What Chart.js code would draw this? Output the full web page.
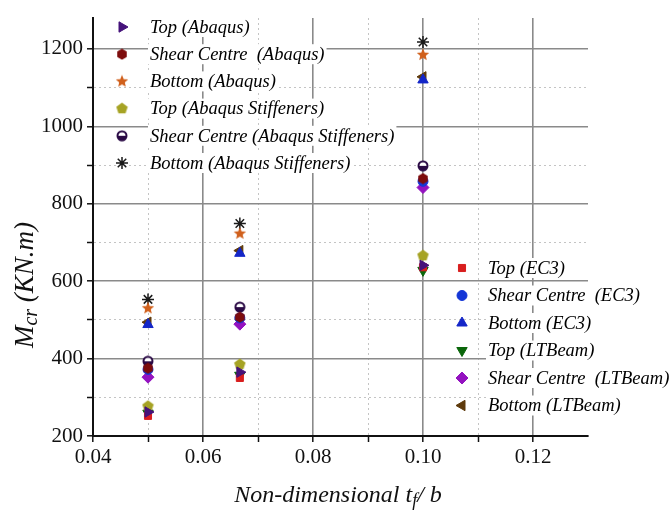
<!DOCTYPE html>
<html>
<head>
<meta charset="utf-8">
<script src="https://cdn.jsdelivr.net/npm/chart.js@4.4.1/dist/chart.umd.min.js"></script>
<style>
  html, body { margin: 0; padding: 0; background: #fff; }
</style>
</head>
<body>
<canvas id="chart" width="670" height="518"></canvas>
<script>
// non-dimensional flange ratio t_f / b
const ratios = [0.05, 0.0667, 0.10];

// Mcr values (kN.m)
const topAbaqus = [262, 365, 641];
const shearAbaqus = [375, 507, 865];
const bottomAbaqus = [530, 723, 1185];
const topStiff = [277, 385, 666];
const shearStiff = [393, 533, 898];
const bottomStiff = [553, 749, 1218];
const topEC3 = [252, 350, 636];
const shearEC3 = [372, 505, 858];
const bottomEC3 = [488, 672, 1120];
const topLTB = [259, 357, 628];
const shearLTB = [352, 489, 842];
const bottomLTB = [494, 679, 1128];

const xTicks = [0.04, 0.05, 0.06, 0.07, 0.08, 0.09, 0.10, 0.11, 0.12];
const yTicks = [200, 300, 400, 500, 600, 700, 800, 900, 1000, 1100, 1200];

const serif = "'Liberation Serif', 'Times New Roman', serif";

// small canvases for the markers Chart.js has no built-in style for
function marker(kind, color, size) {
    const c = document.createElement("canvas");
    c.width = c.height = size;
    const g = c.getContext("2d");
    const cx = size / 2, cy = size / 2, r = size / 2 - 0.5;
    g.fillStyle = color;
    g.strokeStyle = color;
    g.beginPath();
    if (kind === "hex" || kind === "pent") {
        const n = kind === "hex" ? 6 : 5;
        for (let i = 0; i < n; i++) {
            const a = -Math.PI / 2 + i * 2 * Math.PI / n;
            g.lineTo(cx + r * Math.cos(a), cy + r * Math.sin(a));
        }
        g.closePath();
        g.fill();
    } else if (kind === "star") {
        for (let i = 0; i < 10; i++) {
            const a = -Math.PI / 2 + i * Math.PI / 5;
            const rr = i % 2 ? r * 0.45 : r;
            g.lineTo(cx + rr * Math.cos(a), cy + rr * Math.sin(a));
        }
        g.closePath();
        g.fill();
    } else if (kind === "half") {
        g.arc(cx, cy, r - 1, 0, Math.PI * 2);
        g.fillStyle = "#fff";
        g.fill();
        g.beginPath();
        g.arc(cx, cy, r - 1, 0, Math.PI);
        g.fillStyle = color;
        g.fill();
        g.beginPath();
        g.arc(cx, cy, r - 1, 0, Math.PI * 2);
        g.lineWidth = 2;
        g.stroke();
    }
    return c;
}

function series(label, values, color, style, radius, rotation, legend) {
    return {
        label: label,
        data: ratios.map((x, i) => ({ x: x, y: values[i] })),
        backgroundColor: color,
        borderColor: color,
        pointStyle: style,
        pointRadius: radius,
        pointRotation: rotation || 0,
        pointBorderWidth: style === "star" ? 1.5 : 1,
        legendBox: legend
    };
}

const datasets = [
    series("Top (Abaqus)", topAbaqus, "#45127a", "triangle", 6, 90, 0),
    series("Shear Centre  (Abaqus)", shearAbaqus, "#7d0c0c", marker("hex", "#7d0c0c", 12), 6, 0, 0),
    series("Bottom (Abaqus)", bottomAbaqus, "#d0601c", marker("star", "#d0601c", 14), 7, 0, 0),
    series("Top (Abaqus Stiffeners)", topStiff, "#a6a324", marker("pent", "#a6a324", 13), 6, 0, 0),
    series("Shear Centre (Abaqus Stiffeners)", shearStiff, "#2a0a45", marker("half", "#2a0a45", 12), 6, 0, 0),
    series("Bottom (Abaqus Stiffeners)", bottomStiff, "#1a1a1a", "star", 6, 0, 0),
    series("Top (EC3)", topEC3, "#d81e1e", "rect", 5, 0, 1),
    series("Shear Centre  (EC3)", shearEC3, "#1436d6", "circle", 5, 0, 1),
    series("Bottom (EC3)", bottomEC3, "#1426c8", "triangle", 6, 0, 1),
    series("Top (LTBeam)", topLTB, "#0a660a", "triangle", 6, 180, 1),
    series("Shear Centre  (LTBeam)", shearLTB, "#9412c0", "rectRot", 6, 0, 1),
    series("Bottom (LTBeam)", bottomLTB, "#5e3a0c", "triangle", 6, 270, 1)
];

const isMajorX = v => Math.round(v * 100) % 2 === 0;
const isMajorY = v => Math.round(v) % 200 === 0;

// legends and axis titles with subscripts
const decorPlugin = {
    id: "decor",
    afterDraw(chart) {
        const ctx = chart.ctx;
        const boxes = [
            { sx: 122, tx: 150, y: 27, dy: 27.2 },
            { sx: 462, tx: 488, y: 268, dy: 27.5 }
        ];
        const rows = [0, 0];
        ctx.save();
        chart.data.datasets.forEach(ds => {
            const b = boxes[ds.legendBox];
            const y = b.y + rows[ds.legendBox]++ * b.dy;
            ctx.font = "italic 18.5px " + serif;
            const w = ctx.measureText(ds.label).width;
            ctx.fillStyle = "#fff";
            ctx.fillRect(b.tx - 2, y - 10, w + 4, 20);
            ctx.fillStyle = ds.backgroundColor;
            ctx.strokeStyle = ds.borderColor;
            ctx.lineWidth = ds.pointBorderWidth;
            Chart.helpers.drawPoint(ctx, {
                pointStyle: ds.pointStyle,
                radius: ds.pointRadius,
                rotation: ds.pointRotation,
                borderWidth: ds.pointBorderWidth
            }, b.sx, y);
            ctx.fillStyle = "#000";
            ctx.textBaseline = "middle";
            ctx.textAlign = "left";
            ctx.fillText(ds.label, b.tx, y + 1);
        });

        // pieces of a title: [text, size, baseline shift]
        function drawParts(parts, cx, baseline) {
            let total = 0;
            parts.forEach(p => {
                ctx.font = "italic " + p[1] + "px " + serif;
                total += ctx.measureText(p[0]).width;
            });
            let x = cx - total / 2;
            ctx.textBaseline = "alphabetic";
            ctx.textAlign = "left";
            ctx.fillStyle = "#111";
            parts.forEach(p => {
                ctx.font = "italic " + p[1] + "px " + serif;
                ctx.fillText(p[0], x, baseline + p[2]);
                x += ctx.measureText(p[0]).width;
            });
        }
        drawParts([["Non-dimensional ", 24, 0], ["t", 24, 0], ["f", 18, 4], ["/ b", 24, 0]], 338, 502);

        ctx.translate(33, 285);
        ctx.rotate(-Math.PI / 2);
        drawParts([["M", 27, 0], ["cr", 20, 4], [" (KN.m)", 27, 0]], 0, 0);
        ctx.restore();
    }
};

new Chart(document.getElementById("chart"), {
    type: "scatter",
    data: { datasets: datasets },
    plugins: [decorPlugin],
    options: {
        responsive: false,
        animation: false,
        layout: { padding: { top: 18, right: 82, left: 0, bottom: 0 } },
        plugins: {
            legend: { display: false },
            tooltip: { enabled: false }
        },
        scales: {
            x: {
                type: "linear",
                min: 0.04,
                max: 0.13,
                afterBuildTicks: scale => { scale.ticks = xTicks.map(v => ({ value: v })); },
                afterFit: scale => { scale.height = 82; },
                ticks: {
                    autoSkip: false,
                    maxRotation: 0,
                    padding: 3,
                    color: "#111",
                    font: { family: serif, size: 21 },
                    callback: v => isMajorX(v) ? v.toFixed(2) : ""
                },
                grid: {
                    color: ctx => isMajorX(ctx.tick.value) ? "#8a8a8a" : "#c4c4c4",
                    lineWidth: ctx => isMajorX(ctx.tick.value) ? 1.6 : 1,
                    tickColor: "#111",
                    tickLength: 6,
                    tickWidth: 1.5
                },
                border: {
                    color: "#111",
                    width: 2,
                    dash: ctx => (ctx.tick && !isMajorX(ctx.tick.value)) ? [2, 3] : []
                }
            },
            y: {
                type: "linear",
                min: 200,
                max: 1280,
                afterBuildTicks: scale => { scale.ticks = yTicks.map(v => ({ value: v })); },
                afterFit: scale => { scale.width = 93; },
                ticks: {
                    autoSkip: false,
                    padding: 4,
                    color: "#111",
                    font: { family: serif, size: 21 },
                    callback: v => isMajorY(v) ? String(v) : ""
                },
                grid: {
                    color: ctx => isMajorY(ctx.tick.value) ? "#8a8a8a" : "#c4c4c4",
                    lineWidth: ctx => isMajorY(ctx.tick.value) ? 1.6 : 1,
                    tickColor: "#111",
                    tickLength: 6,
                    tickWidth: 1.5
                },
                border: {
                    color: "#111",
                    width: 2,
                    dash: ctx => (ctx.tick && !isMajorY(ctx.tick.value)) ? [2, 3] : []
                }
            }
        }
    }
});
</script>
</body>
</html>
